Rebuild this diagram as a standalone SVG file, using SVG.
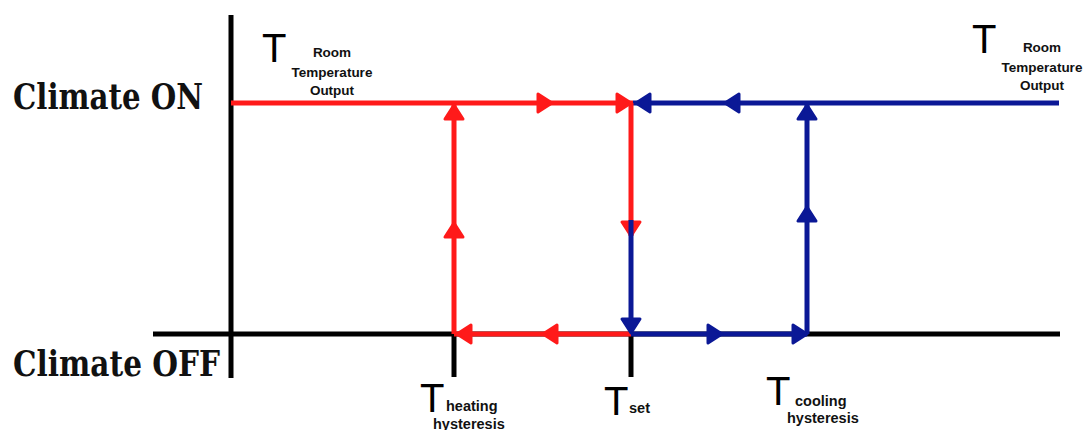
<svg xmlns="http://www.w3.org/2000/svg" xmlns:xlink="http://www.w3.org/1999/xlink" width="1083" height="430" viewBox="0 0 1083 430">
<style>
.ax{stroke:#000;stroke-width:5;fill:none;stroke-linecap:butt}
.r{stroke:#ff1a1a;stroke-width:5;fill:none}
.b{stroke:#0b1896;stroke-width:5;fill:none}
.rh{fill:#ff1a1a;stroke:#ff1a1a}
.bh{fill:#0b1896;stroke:#0b1896}
.state{font-family:"DejaVu Serif","Liberation Serif",serif;font-weight:bold;font-size:35px;fill:#111}
.bigT{font-family:"Liberation Sans",Arial,sans-serif;font-size:40px;fill:#000}
.sub{font-family:"Liberation Sans",Arial,sans-serif;font-weight:bold;font-size:14.5px;fill:#111}
.subs{font-family:"Liberation Sans",Arial,sans-serif;font-weight:bold;font-size:13.5px;fill:#111;text-anchor:middle}
</style>
<defs>
<path id="ah" d="M0,0 L-14,-9 L-14,9 Z" stroke-width="3" stroke-linejoin="round"/>
</defs>
<rect width="1083" height="430" fill="#fff"/>
<g id="axes">
<line class="ax" x1="231" y1="15" x2="231" y2="378"/>
<line class="ax" x1="153" y1="334" x2="1060" y2="334"/>
<line class="ax" x1="454" y1="334" x2="454" y2="377"/>
<line class="ax" x1="631" y1="334" x2="631" y2="377"/>
</g>
<g id="connectors">
<line class="r" x1="231" y1="103" x2="633" y2="103"/>
<line class="b" x1="633" y1="103" x2="1059" y2="103"/>
<line class="r" x1="454" y1="103" x2="454" y2="334"/>
<line class="r" x1="631" y1="103" x2="631" y2="236"/>
<line class="r" x1="454" y1="334" x2="631" y2="334"/>
<use href="#ah" class="rh" transform="translate(454,105) rotate(-90)"/>
<use href="#ah" class="rh" transform="translate(454,223) rotate(-90)"/>
<use href="#ah" class="rh" transform="translate(552,103)"/>
<use href="#ah" class="rh" transform="translate(631,103)"/>
<use href="#ah" class="rh" transform="translate(631,236) rotate(90)"/>
<use href="#ah" class="rh" transform="translate(457,334) rotate(180)"/>
<use href="#ah" class="rh" transform="translate(543,334) rotate(180)"/>
<line class="b" x1="631" y1="220" x2="631" y2="330"/>
<line class="b" x1="631" y1="334" x2="807" y2="334"/>
<line class="b" x1="807" y1="103" x2="807" y2="334"/>
<use href="#ah" class="bh" transform="translate(636,103) rotate(180)"/>
<use href="#ah" class="bh" transform="translate(725,103) rotate(180)"/>
<use href="#ah" class="bh" transform="translate(807,105) rotate(-90)"/>
<use href="#ah" class="bh" transform="translate(807,207) rotate(-90)"/>
<use href="#ah" class="bh" transform="translate(631,333) rotate(90)"/>
<use href="#ah" class="bh" transform="translate(722,334)"/>
<use href="#ah" class="bh" transform="translate(807,334)"/>
</g>
<g id="label-on">
<text class="state" x="13" y="109" textLength="190" lengthAdjust="spacingAndGlyphs">Climate ON</text>
</g>
<g id="label-off">
<text class="state" x="13" y="376" textLength="207" lengthAdjust="spacingAndGlyphs">Climate OFF</text>
</g>
<g id="t-room-left">
<text class="bigT" x="262" y="62">T</text>
<text class="subs" x="332" y="57">Room</text>
<text class="subs" x="332" y="77">Temperature</text>
<text class="subs" x="332" y="95">Output</text>
</g>
<g id="t-room-right">
<text class="bigT" x="972" y="53">T</text>
<text class="subs" x="1042" y="52">Room</text>
<text class="subs" x="1042" y="72">Temperature</text>
<text class="subs" x="1042" y="90">Output</text>
</g>
<g id="t-heating">
<text class="bigT" x="420" y="412" font-size="39">T</text>
<text class="sub" x="446" y="411">heating</text>
<text class="sub" x="433" y="429">hysteresis</text>
</g>
<g id="t-set">
<text class="bigT" x="604" y="415">T</text>
<text class="sub" x="629" y="413">set</text>
</g>
<g id="t-cooling">
<text class="bigT" x="766" y="405" font-size="41">T</text>
<text class="sub" x="795" y="406">cooling</text>
<text class="sub" x="787" y="423">hysteresis</text>
</g>
</svg>
